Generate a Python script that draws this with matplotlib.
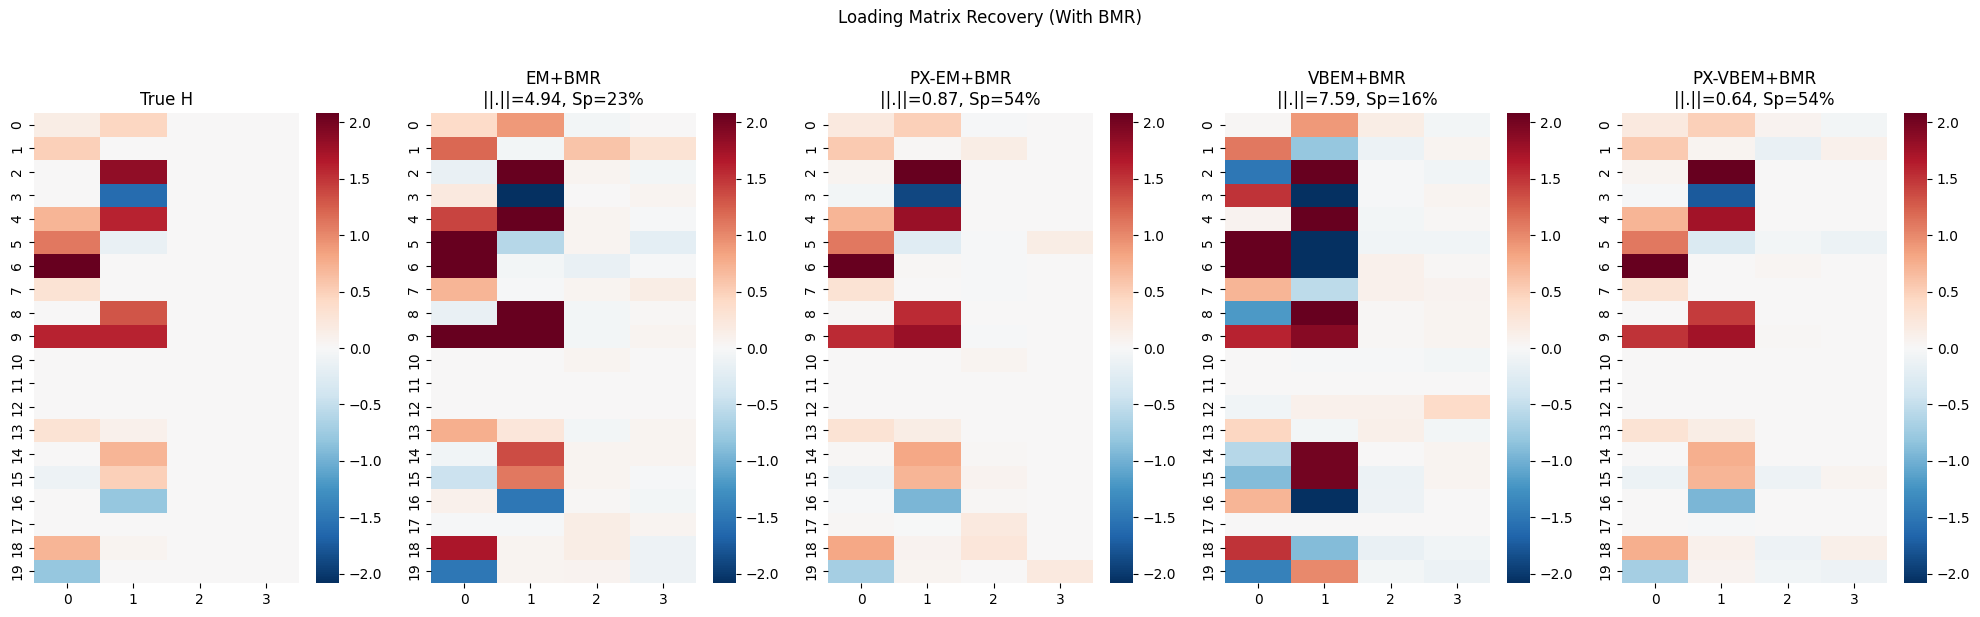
import numpy as np
import matplotlib
matplotlib.use('Agg')
import matplotlib.pyplot as plt
import seaborn as sns

#--loading matrices (20 rows x 4 factors)--#
H_true = [[0.15, 0.45, 0, 0], [0.5, 0, 0, 0], [0, 1.85, 0, 0], [0, -1.6, 0, 0],
          [0.7, 1.6, 0, 0], [1.1, -0.15, 0, 0], [2.08, 0, 0, 0], [0.3, 0, 0, 0],
          [0, 1.3, 0, 0], [1.6, 1.6, 0, 0], [0, 0, 0, 0], [0, 0, 0, 0],
          [0, 0, 0, 0], [0.3, 0.1, 0, 0], [0, 0.7, 0, 0], [-0.1, 0.5, 0, 0],
          [0, -0.8, 0, 0], [0, 0, 0, 0], [0.7, 0.05, 0, 0], [-0.8, 0, 0, 0]]

H_em = [[0.4, 0.9, -0.05, 0.0], [1.2, -0.05, 0.6, 0.3], [-0.15, 2.5, 0.05, -0.05],
        [0.2, -2.5, 0.0, 0.05], [1.4, 2.5, 0.05, -0.02], [2.5, -0.6, 0.05, -0.2],
        [2.5, -0.05, -0.15, -0.02], [0.7, -0.03, 0.05, 0.15], [-0.15, 2.5, -0.05, 0.02],
        [2.5, 2.5, -0.05, 0.05], [0, 0, 0.05, 0], [0, 0, 0, 0], [0, 0, 0, 0],
        [0.75, 0.25, -0.05, 0.05], [-0.08, 1.35, 0.05, 0.05], [-0.45, 1.1, 0.05, -0.02],
        [0.1, -1.5, 0.02, -0.05], [-0.03, -0.03, 0.15, 0.05], [1.7, 0.05, 0.15, -0.1],
        [-1.5, 0.05, 0.08, -0.1]]

H_pxem = [[0.2, 0.5, -0.02, 0], [0.55, 0.02, 0.15, 0], [0.05, 2.3, 0, 0],
          [-0.05, -1.9, 0, 0], [0.7, 1.8, 0, 0], [1.1, -0.25, -0.03, 0.15],
          [2.3, 0.02, -0.03, 0], [0.3, 0, -0.02, 0], [0.03, 1.55, 0, 0],
          [1.55, 1.8, -0.02, 0], [0, 0, 0.05, 0], [0, 0, 0, 0], [0, 0, 0, 0],
          [0.3, 0.15, 0, 0], [0.03, 0.8, 0.02, 0], [-0.1, 0.7, 0.08, 0],
          [-0.02, -0.95, 0.02, 0], [0.02, -0.01, 0.2, 0], [0.8, 0.08, 0.25, 0],
          [-0.7, 0.05, 0, 0.2]]

H_vbem = [[0.02, 0.9, 0.15, -0.05], [1.1, -0.8, -0.12, 0.05], [-1.5, 2.5, -0.03, -0.07],
          [1.5, -2.5, -0.02, 0.05], [0.08, 2.5, -0.05, 0.03], [2.5, -2.5, -0.08, -0.08],
          [2.5, -2.5, 0.1, 0.03], [0.7, -0.55, 0.1, 0.08], [-1.2, 2.5, 0.02, 0.06],
          [1.6, 1.9, 0.03, 0.06], [0.0, -0.03, -0.02, -0.05], [0, 0, 0, 0],
          [-0.07, 0.1, 0.1, 0.4], [0.45, -0.05, 0.12, -0.06], [-0.6, 2.0, 0.0, 0.05],
          [-0.9, 2.0, -0.12, 0.06], [0.7, -2.5, -0.1, 0.0], [0, 0, 0, 0],
          [1.5, -0.9, -0.15, -0.08], [-1.4, 1.0, -0.05, -0.12]]

H_pxvbem = [[0.2, 0.5, 0.08, -0.05], [0.55, 0.05, -0.15, 0.1], [0.05, 2.3, 0, 0],
            [-0.03, -1.75, 0, 0], [0.7, 1.75, 0, 0], [1.1, -0.3, -0.05, -0.12],
            [2.3, 0, 0.04, 0], [0.3, 0, 0, 0], [0, 1.45, 0, 0], [1.5, 1.75, 0.03, 0],
            [0, 0, 0, 0], [0, 0, 0, 0], [0, 0, 0, 0], [0.3, 0.15, 0, 0],
            [0, 0.75, 0, 0], [-0.12, 0.7, -0.1, 0.06], [0, -0.95, 0, 0],
            [0, -0.02, 0, 0], [0.75, 0.1, -0.1, 0.12], [-0.7, 0.08, -0.08, -0.1]]

titles = ['True H',
          'EM+BMR\n||.||=4.94, Sp=23%',
          'PX-EM+BMR\n||.||=0.87, Sp=54%',
          'VBEM+BMR\n||.||=7.59, Sp=16%',
          'PX-VBEM+BMR\n||.||=0.64, Sp=54%']
mats = [H_true, H_em, H_pxem, H_vbem, H_pxvbem]

vmax = np.abs(np.array(H_true)).max()

#--figure--#
W, H = 1980, 617
fig = plt.figure(figsize=(W / 100, H / 100), dpi=100)

for k, (M, t) in enumerate(zip(mats, titles)):
    x0 = 34 + 397 * k
    ax = fig.add_axes([x0 / W, 34 / H, 265 / W, 470 / H])
    cax = fig.add_axes([(x0 + 282) / W, 34 / H, 23 / W, 470 / H])
    sns.heatmap(np.array(M), ax=ax, cbar_ax=cax, cmap='RdBu_r', center=0,
                vmin=-vmax, vmax=vmax)
    ax.set_title(t, fontsize=12)
    cax.set_yticks(np.arange(-2.0, 2.01, 0.5))

fig.suptitle('Loading Matrix Recovery (With BMR)', fontsize=12, y=0.985)

fig.savefig('out.png', dpi=100)
